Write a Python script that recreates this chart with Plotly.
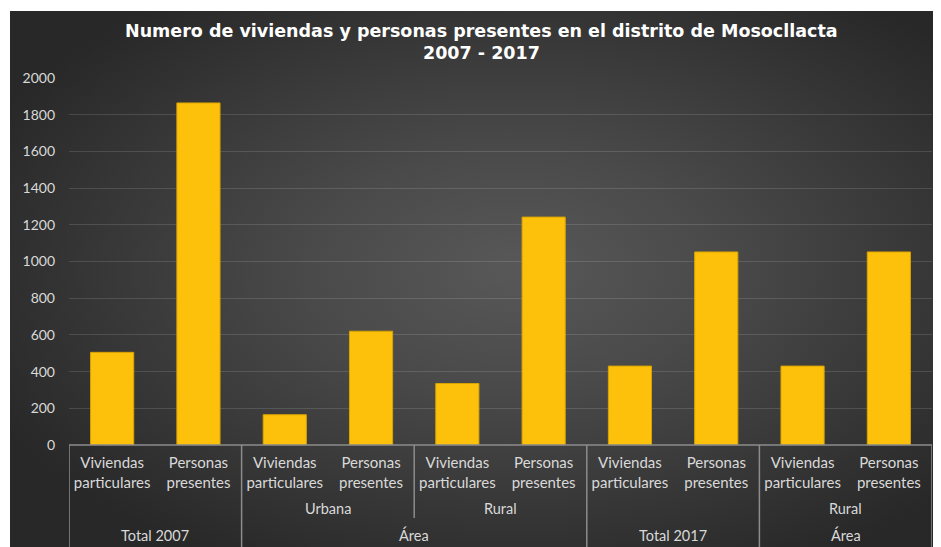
import base64
import plotly.graph_objects as go

# ---- data ----
level1 = ["Viviendas particulares", "Personas presentes"] * 5
level2 = ["", "", "Urbana", "Urbana", "Rural", "Rural", "", "", "Rural", "Rural"]
level3 = ["Total 2007", "Total 2007", "Área", "Área", "Área", "Área",
          "Total 2017", "Total 2017", "Área", "Área"]
values = [505, 1864, 165, 620, 335, 1242, 430, 1052, 430, 1052]
y_ticks = [0, 200, 400, 600, 800, 1000, 1200, 1400, 1600, 1800, 2000]
title_lines = ["Numero de viviendas y personas presentes en el distrito de Mosocllacta",
               "2007 - 2017"]

W, H = 941, 547
OFF = 8  # page body margin
# target page pixel positions
P_LEFT, P_RIGHT, P_TOP, P_BOTTOM = 69, 932, 78, 445
ML = P_LEFT - OFF
MT = P_TOP - OFF
MR = W - (P_RIGHT - OFF)
MB = H - (P_BOTTOM - OFF)
PW = P_RIGHT - P_LEFT
PH = P_BOTTOM - P_TOP

def ypos(page_y):
    return (P_BOTTOM - page_y) / PH

def xpos(page_x):
    return (page_x - P_LEFT) / PW

x = list(range(len(values)))
ticktext = [t.replace(" ", "<br>") for t in level1]

fig = go.Figure()
fig.add_trace(go.Bar(
    x=x, y=values,
    marker=dict(color="#FDC10C", line=dict(color="#D9A400", width=1)),
    hoverinfo="y",
))

# background radial gradient
svg = ('<svg xmlns="http://www.w3.org/2000/svg" width="931" height="536" viewBox="0 0 931 536" '
       'preserveAspectRatio="none"><defs><radialGradient id="g" cx="54%" cy="48%" r="62%">'
       '<stop offset="0" stop-color="#585858"/><stop offset="0.35" stop-color="#4a4a4a"/>'
       '<stop offset="1" stop-color="#282828"/></radialGradient></defs>'
       '<rect width="931" height="536" fill="url(#g)"/></svg>')
src = "data:image/svg+xml;base64," + base64.b64encode(svg.encode()).decode()
x0 = xpos(10); x1 = xpos(W + 2)
y_top = ypos(11); y_bot = ypos(H + 2)
fig.add_layout_image(dict(source=src, xref="paper", yref="paper",
                          x=x0, y=y_top, sizex=x1 - x0, sizey=y_top - y_bot,
                          xanchor="left", yanchor="top", sizing="stretch",
                          layer="below"))

# group labels (derived from the level arrays, groups of consecutive equal labels)
def groups(levels, pair=False):
    out = []
    start = 0
    for i in range(1, len(levels) + 1):
        if i == len(levels) or levels[i] != levels[start] or (pair and i % 2 == 0):
            out.append((levels[start], start, i - 1))
            start = i
    return out

lab_color = "#D9D9D9"
FONT = "Lato"
ann = []
for name, a, b in groups(level2, pair=True):
    if name:
        ann.append(dict(x=(a + b) / 2, y=ypos(509), xref="x", yref="paper",
                        text=name, showarrow=False, yanchor="middle",
                        font=dict(family=FONT, size=14.5, color=lab_color)))
for name, a, b in groups(level3):
    ann.append(dict(x=(a + b) / 2, y=ypos(535), xref="x", yref="paper",
                    text=name, showarrow=False, yanchor="middle",
                    font=dict(family=FONT, size=14.5, color=lab_color)))

# title (two lines)
for line, py in zip(title_lines, [31, 53]):
    ann.append(dict(x=xpos(481), y=ypos(py), xref="paper", yref="paper",
                    text=line, showarrow=False, xanchor="center", yanchor="middle",
                    font=dict(family="DejaVu Sans", size=17.5, color="white", weight="bold")))

# separator lines
line_col = "#8C8C8C"
shapes = []
bottom = ypos(H + 2)
mid = ypos(518)
seps = [-0.5, 1.5, 3.5, 5.5, 7.5, 9.5]
for s in seps:
    i = int(s + 0.5)
    full = True
    if 0 < i < len(values) and level3[i] == level3[i - 1]:
        full = False
    shapes.append(dict(type="line", xref="x", yref="paper", x0=s, x1=s,
                       y0=0, y1=bottom if full else mid,
                       line=dict(color=line_col, width=1.5)))
shapes.append(dict(type="line", xref="x", yref="paper", x0=-0.5, x1=9.5,
                   y0=0, y1=0, line=dict(color=line_col, width=1.5)))

fig.update_layout(
    width=W, height=H,
    margin=dict(l=ML, r=MR, t=MT, b=MB),
    paper_bgcolor="white", plot_bgcolor="rgba(0,0,0,0)",
    bargap=0.5, showlegend=False,
    xaxis=dict(range=[-0.5, 9.5], tickvals=x, ticktext=ticktext, showgrid=False,
               zeroline=False, showline=False, ticks="",
               tickfont=dict(family=FONT, size=15, color=lab_color),
               ticklabelstandoff=7, fixedrange=True),
    yaxis=dict(range=[0, 2000], tickvals=y_ticks, showgrid=True,
               gridcolor="rgba(255,255,255,0.13)", gridwidth=1, zeroline=False,
               tickfont=dict(family=FONT, size=14, color=lab_color),
               ticks="", ticklabelstandoff=13, fixedrange=True),
    annotations=ann, shapes=shapes,
)

fig.write_html("out.html")
